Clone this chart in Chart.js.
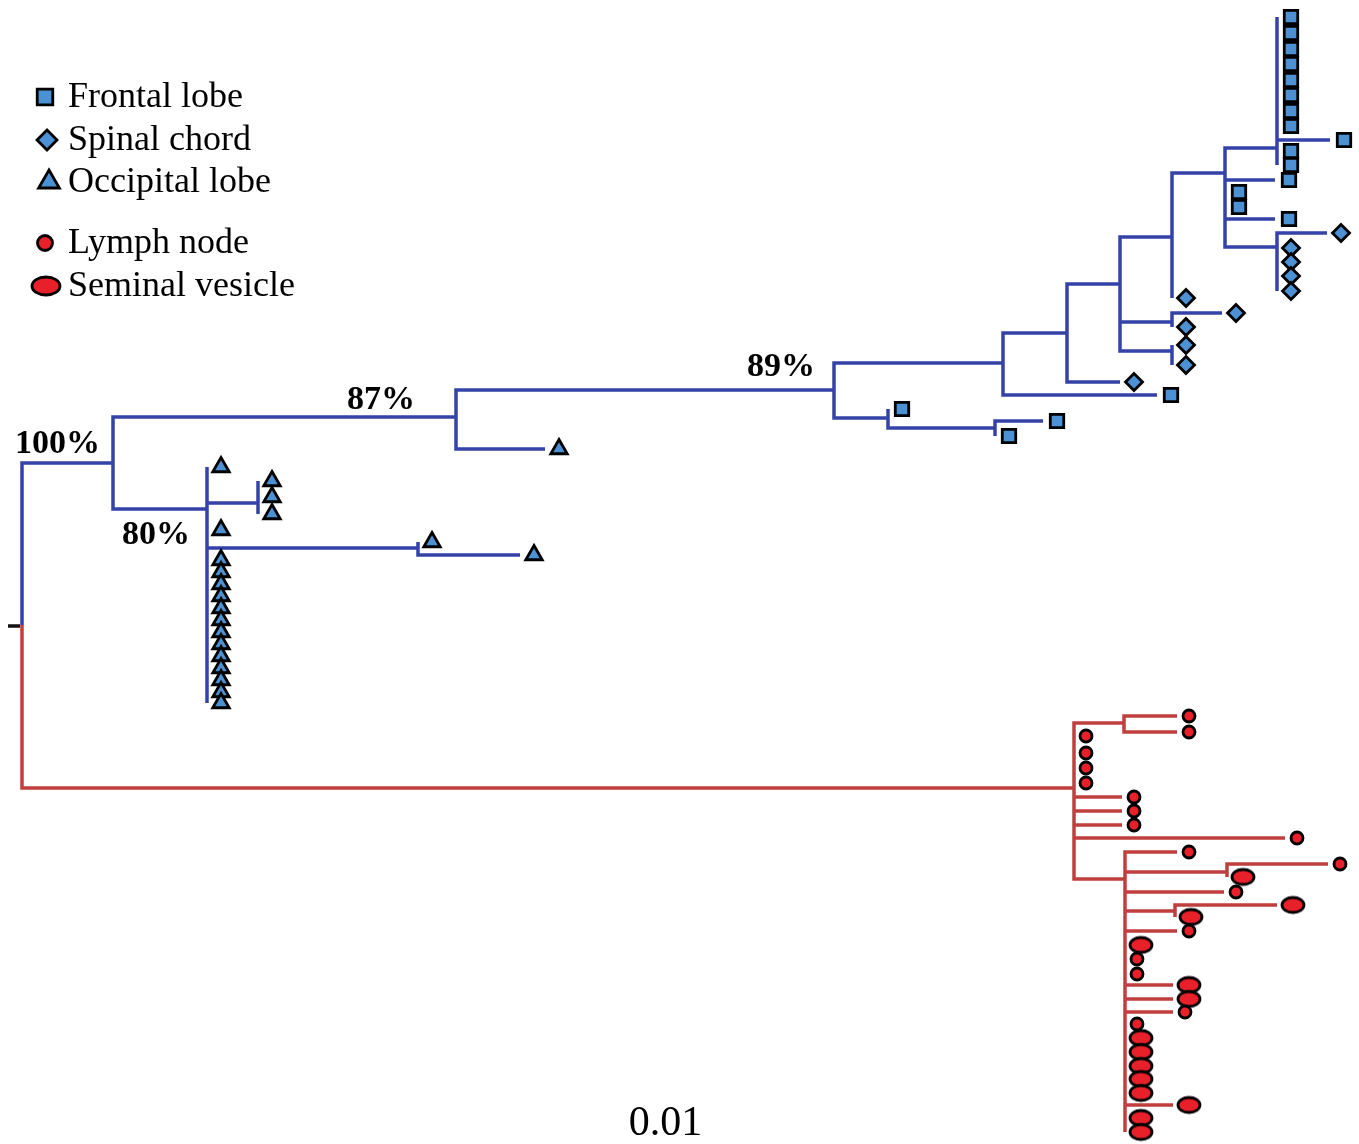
<!DOCTYPE html>
<html>
<head>
<meta charset="utf-8">
<script src="https://cdn.jsdelivr.net/npm/chart.js@4/dist/chart.umd.min.js"></script>
<style>
  body { margin: 0; background: #fff; }
  #wrap { width: 1359px; height: 1144px; position: relative; }
</style>
</head>
<body>
<div id="wrap"><canvas id="tree"></canvas></div>
<script>
// internal nodes of the tree (x = cumulative branch length, y = row)
var nodeNames   = ['root','A','B','C','D','E','F','G','H','I','J','K','L','M','N','P','Q','R','S','T','U','V','W'];
var nodeParents = [null,'root','A','B','C','D','E','F','G','H','H','F','F','C','M','A','P','P','root','S','S','U','U'];
var nodeX = [22,113,456,834,1003,1067,1120,1172,1225,1277,1277,1172,1172,888,995,207,258,418,1074,1124,1125,1227,1175];
var nodeY = [625,463,417,390,363,333,284,237,173,148,247,322,351,418,428,509,503,548,788,723,879,872,911];

// tissue categories
var tissues = ['Frontal lobe','Spinal chord','Occipital lobe','Lymph node','Seminal vesicle'];

// leaves: parent node, tip x, row y, tissue index
var leafParent = [
  'I','I','I','I','I','I','I','I','I','I','I',
  'H','H','H','H',
  'J','J','J','J','J',
  'G','K','K','L','L','E','D','M','N','N',
  'B','P','Q','Q','Q','P','R','R',
  'P','P','P','P','P','P','P','P','P','P','P','P','P',
  'T','T','S','S','S','S','S','S','S','S',
  'U','V','V','U','W','W','U',
  'U','U','U','U','U','U',
  'U','U','U','U','U','U','U','U','U'
];
var leafX = [
  1277,1277,1277,1277,1277,1277,1277,1277,1330,1277,1277,
  1275,1225,1225,1275,
  1327,1277,1277,1277,1277,
  1172,1222,1172,1172,1172,1120,1157,888,1043,995,
  545,207,258,258,258,207,418,520,
  207,207,207,207,207,207,207,207,207,207,207,207,207,
  1177,1177,1074,1074,1074,1074,1122,1122,1122,1285,
  1177,1328,1227,1224,1277,1175,1177,
  1125,1125,1125,1173,1173,1173,
  1125,1125,1125,1125,1125,1125,1173,1125,1125
];
var leafY = [
  17,33,49,64,80,95,111,126,140,151,165,
  180,192,207,219,
  233,248,262,276,291,
  298,313,327,345,365,382,395,409,421,436,
  449,467,481,497,514,530,542,555,
  560,572,584,596,608,620,632,644,656,668,680,692,703,
  716,732,736,753,768,783,797,811,825,838,
  852,864,877,892,905,917,931,
  945,959,974,985,999,1012,
  1024,1038,1052,1066,1079,1093,1105,1118,1132
];
var leafTissue = [
  0,0,0,0,0,0,0,0,0,0,0,
  0,0,0,0,
  1,1,1,1,1,
  1,1,1,1,1,1,0,0,0,0,
  2,2,2,2,2,2,2,2,
  2,2,2,2,2,2,2,2,2,2,2,2,2,
  3,3,3,3,3,3,3,3,3,3,
  3,3,4,3,4,4,3,
  4,3,3,4,4,3,
  3,4,4,4,4,4,4,4,4
];

// bootstrap support
var supportNode  = ['A','B','C','P'];
var supportValue = ['100%','87%','89%','80%'];
var scaleLabel = '0.01';

// ---- styles ----
var blueLine = '#3543a9', redLine = '#bf3f3e';
var blueFill = '#4b91d3', redFill = '#e8202a';
var cladeColor = { A: blueLine, S: redLine };
var markStyle = [
  { style: 'rect',     radius: 9.5, legend: 11,  fill: blueFill, off: 14 },
  { style: 'rectRot',  radius: 8.5, legend: 10,  fill: blueFill, off: 14 },
  { style: 'triangle', radius: 9.5, legend: 12,  fill: blueFill, off: 14 },
  { style: 'circle',   radius: 6,   legend: 7.5, fill: redFill,  off: 12 },
  { style: null,       radius: 9,   legend: 0,   fill: redFill,  off: 16 }
];
// label placement relative to node: dx to right edge, dy to text middle
var supportPlace = { A: [-13, -19], B: [-41, -17], C: [-19, -23], P: [-17, 26] };

function ellipseMark(w, h) {
  var c = document.createElement('canvas');
  c.width = w + 6; c.height = h + 6;
  var g = c.getContext('2d');
  g.beginPath();
  g.ellipse(c.width / 2, c.height / 2, w / 2, h / 2, 0, 0, Math.PI * 2);
  g.fillStyle = redFill; g.fill();
  g.lineWidth = 2.8; g.strokeStyle = '#000'; g.stroke();
  return c;
}
var ovalSmall = ellipseMark(22, 15);
var ovalLegend = ellipseMark(28, 18);

var idx = {};
nodeNames.forEach(function (n, i) { idx[n] = i; });
function topClade(name) {
  var n = name;
  while (nodeParents[idx[n]] && nodeParents[idx[n]] !== 'root') n = nodeParents[idx[n]];
  return n;
}

// branches as elbows, split into one polyline per clade
var branches = { A: [], S: [] };
function addElbow(parentName, clade, cx, cy) {
  var p = idx[parentName];
  var arr = branches[clade];
  arr.push({ x: nodeX[p], y: nodeY[p] });
  arr.push({ x: nodeX[p], y: cy });
  arr.push({ x: cx, y: cy });
  arr.push({ x: cx, y: null });
}
for (var i = 1; i < nodeNames.length; i++) {
  addElbow(nodeParents[i], topClade(nodeNames[i]), nodeX[i], nodeY[i]);
}
for (var j = 0; j < leafParent.length; j++) {
  addElbow(leafParent[j], topClade(leafParent[j]), leafX[j], leafY[j]);
}

var datasets = [];
['A', 'S'].forEach(function (c) {
  datasets.push({
    label: 'branches ' + c,
    data: branches[c],
    showLine: true,
    borderColor: cladeColor[c],
    borderWidth: 3.5,
    borderJoinStyle: 'miter',
    pointRadius: 0,
    order: 2
  });
});
datasets.push({
  label: 'root',
  data: [{ x: nodeX[0] - 14, y: nodeY[0] + 1 }, { x: nodeX[0] - 2, y: nodeY[0] + 1 }],
  showLine: true, borderColor: '#111', borderWidth: 3.5, pointRadius: 0, order: 2
});
tissues.forEach(function (t, k) {
  var m = markStyle[k];
  var pts = [];
  for (var j = 0; j < leafParent.length; j++) {
    if (leafTissue[j] === k) pts.push({ x: leafX[j] + m.off, y: leafY[j] });
  }
  datasets.push({
    label: t,
    data: pts,
    showLine: false,
    pointStyle: m.style || ovalSmall,
    pointRadius: m.radius,
    pointBackgroundColor: m.fill,
    pointBorderColor: '#000',
    pointBorderWidth: 2.8,
    order: 0
  });
});

var textPlugin = {
  id: 'treeText',
  afterDraw: function (chart) {
    var ctx = chart.ctx, xs = chart.scales.x, ys = chart.scales.y;
    ctx.save();
    // bootstrap values
    ctx.fillStyle = '#000';
    ctx.font = 'bold 34px "Liberation Serif", "Times New Roman", serif';
    ctx.textAlign = 'right';
    ctx.textBaseline = 'middle';
    supportNode.forEach(function (n, k) {
      var pl = supportPlace[n];
      ctx.fillText(supportValue[k], xs.getPixelForValue(nodeX[idx[n]]) + pl[0], ys.getPixelForValue(nodeY[idx[n]]) + pl[1]);
    });
    // scale label
    ctx.font = '42px "Liberation Serif", "Times New Roman", serif';
    ctx.textAlign = 'center';
    ctx.fillText(scaleLabel, chart.width / 2 - 14, 1124);
    // legend
    var rows = [97, 140, 182, 243, 286];
    var mx = [45, 47, 49, 45, 46];
    ctx.font = '36px "Liberation Serif", "Times New Roman", serif';
    ctx.textAlign = 'left';
    tissues.forEach(function (t, k) {
      var m = markStyle[k];
      if (m.style) {
        ctx.fillStyle = m.fill; ctx.strokeStyle = '#000'; ctx.lineWidth = 2.8;
        Chart.helpers.drawPoint(ctx, { pointStyle: m.style, radius: m.legend, rotation: 0, borderWidth: 2.8 }, mx[k], rows[k]);
      } else {
        ctx.drawImage(ovalLegend, mx[k] - ovalLegend.width / 2, rows[k] - ovalLegend.height / 2);
      }
      ctx.fillStyle = '#000';
      ctx.fillText(t, 68, rows[k] + 1);
    });
    ctx.restore();
  }
};

new Chart(document.getElementById('tree'), {
  type: 'scatter',
  data: { datasets: datasets },
  options: {
    responsive: true,
    maintainAspectRatio: false,
    animation: false,
    layout: { padding: 0, autoPadding: false },
    scales: {
      x: { type: 'linear', min: 0, max: 1359, display: false },
      y: { type: 'linear', min: 0, max: 1144, reverse: true, display: false }
    },
    plugins: {
      legend: { display: false },
      tooltip: { enabled: false }
    }
  },
  plugins: [textPlugin]
});
</script>
</body>
</html>
